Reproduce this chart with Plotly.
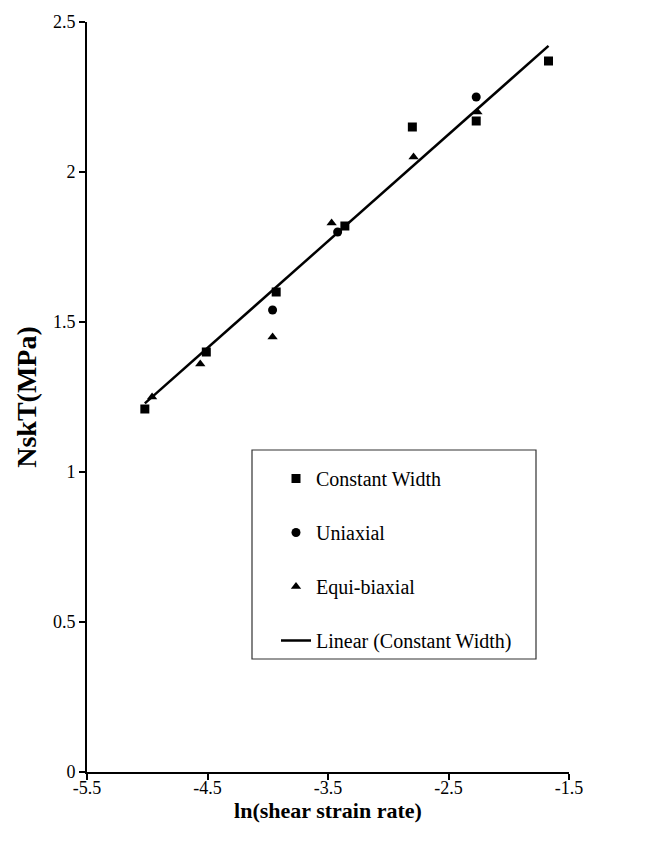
import numpy as np
import plotly.graph_objects as go

# Data
cw_x = [-5.02, -4.51, -3.93, -3.36, -2.80, -2.27, -1.67]
cw_y = [1.21, 1.40, 1.60, 1.82, 2.15, 2.17, 2.37]

uni_x = [-3.96, -3.42, -2.27]
uni_y = [1.54, 1.80, 2.25]

eq_x = [-4.96, -4.56, -3.96, -3.47, -2.79, -2.26]
eq_y = [1.25, 1.36, 1.45, 1.83, 2.05, 2.20]

x_ticks = [-5.5, -4.5, -3.5, -2.5, -1.5]
y_ticks = [0, 0.5, 1, 1.5, 2, 2.5]

# Linear trendline for Constant Width
slope, intercept = np.polyfit(cw_x, cw_y, 1)
fit_x = [min(cw_x), max(cw_x)]
fit_y = [slope * v + intercept for v in fit_x]

FONT = "Liberation Serif"

fig = go.Figure()
fig.add_trace(go.Scatter(x=cw_x, y=cw_y, mode="markers", name="Constant Width",
                         legendgroup="a",
                         marker=dict(symbol="square", size=9, color="black")))
fig.add_trace(go.Scatter(x=uni_x, y=uni_y, mode="markers", name="Uniaxial",
                         legendgroup="b",
                         marker=dict(symbol="circle", size=9, color="black")))
fig.add_trace(go.Scatter(x=eq_x, y=eq_y, mode="markers", name="Equi-biaxial",
                         legendgroup="c",
                         marker=dict(symbol="triangle-up", size=9, color="black")))
fig.add_trace(go.Scatter(x=fit_x, y=fit_y, mode="lines", name="Linear (Constant Width)",
                         legendgroup="d",
                         line=dict(color="black", width=2.5)))

# legend box
fig.add_shape(type="rect", xref="paper", yref="paper",
              x0=(252 - 87) / 482, x1=(536 - 87) / 482,
              y0=(772 - 659) / 750, y1=(772 - 450) / 750,
              line=dict(color="#333", width=1.2), fillcolor="rgba(0,0,0,0)")

fig.update_layout(
    width=654, height=849,
    margin=dict(l=87, r=85, t=22, b=77),
    plot_bgcolor="white", paper_bgcolor="white",
    font=dict(family=FONT, color="black", size=18),
    legend=dict(x=(276 - 87) / 482, y=(772 - 459) / 750, xanchor="left", yanchor="top",
                bgcolor="rgba(0,0,0,0)", borderwidth=0,
                font=dict(family=FONT, size=20, color="black"),
                tracegroupgap=25, itemwidth=30),
    xaxis=dict(range=[-5.5, -1.5], tickvals=x_ticks, ticktext=[str(v) for v in x_ticks],
               showgrid=False, zeroline=False, showline=True, linecolor="black", linewidth=2,
               ticks="outside", ticklen=6, tickwidth=2, tickcolor="black",
               ticklabelstandoff=-8,
               title=dict(text="<b>ln(shear strain rate)</b>", font=dict(family=FONT, size=22),
                          standoff=2)),
    yaxis=dict(range=[0, 2.5], tickvals=y_ticks, ticktext=["0", "0.5", "1", "1.5", "2", "2.5"],
               showgrid=False, zeroline=False, showline=True, linecolor="black", linewidth=2,
               ticks="outside", ticklen=6, tickwidth=2, tickcolor="black",
               title=dict(text="<b>NskT(MPa)</b>", font=dict(family=FONT, size=28),
                          standoff=8)),
)

fig.write_html("out.html")
